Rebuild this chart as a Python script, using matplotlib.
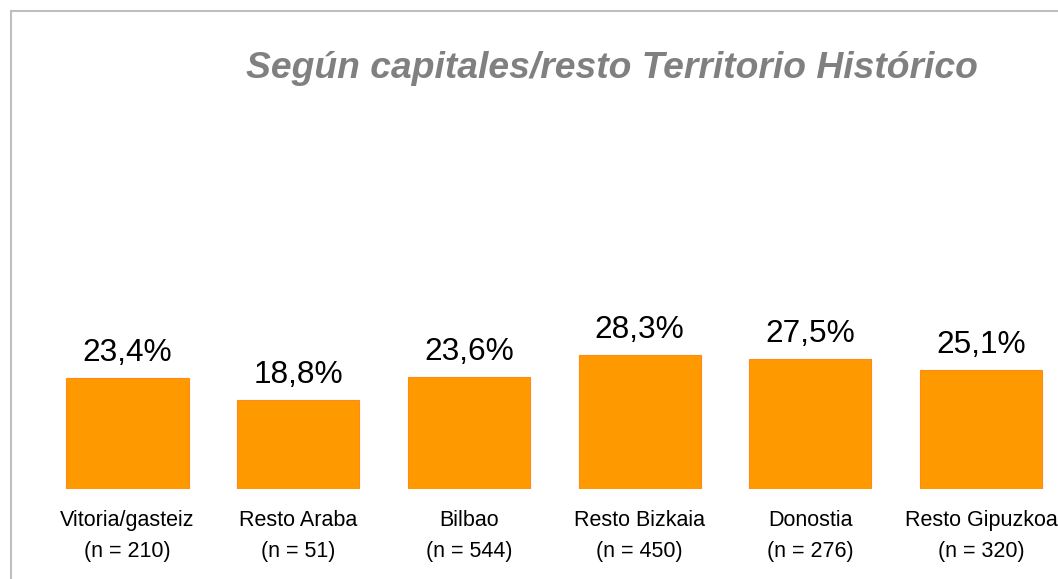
import matplotlib
matplotlib.use("Agg")
import matplotlib.pyplot as plt
from matplotlib.lines import Line2D

plt.rcParams['font.family'] = ['Liberation Sans', 'DejaVu Sans']

categories = ["Vitoria/gasteiz", "Resto Araba", "Bilbao", "Resto Bizkaia", "Donostia", "Resto Gipuzkoa"]
sample_sizes = ["(n = 210)", "(n = 51)", "(n = 544)", "(n = 450)", "(n = 276)", "(n = 320)"]
values = [23.4, 18.8, 23.6, 28.3, 27.5, 25.1]
title = "Según capitales/resto Territorio Histórico"

W, H = 1058, 579
fig = plt.figure(figsize=(W / 100, H / 100), dpi=100)

# axes: x from -0.4..5.4 mapped to px 59.2..1049.3 ; y 0 at px 489, 4.74 px per unit
left_px, right_px = 59.2, 1049.3
bottom_px = 489
ymax = 80
top_px = bottom_px - ymax * 4.74
ax = fig.add_axes([left_px / W, (H - bottom_px) / H, (right_px - left_px) / W, (bottom_px - top_px) / H])
ax.set_xlim(-0.4, 5.4)
ax.set_ylim(0, ymax)
ax.axis('off')

x = list(range(len(categories)))
ax.bar(x, values, width=0.715, color='#FF9900', edgecolor='#FF8A1A', linewidth=0.8)
for xi, v in zip(x, values):
    ax.annotate(f"{v:.1f}%".replace('.', ','), (xi, v), xytext=(0, 12.3), textcoords='offset points',
                ha='center', va='baseline', fontsize=22.8, color='black')
for xi, c, n in zip(x, categories, sample_sizes):
    ax.annotate(c, (xi, 0), xytext=(0, -26.4), textcoords='offset points', ha='center', va='baseline',
                fontsize=15.5, color='black', annotation_clip=False)
    ax.annotate(n, (xi, 0), xytext=(0, -48.7), textcoords='offset points', ha='center', va='baseline',
                fontsize=15.5, color='black', annotation_clip=False)

fig.text(612 / W, 1 - 78 / H, title, ha='center', va='baseline', fontsize=26.8,
         fontweight='bold', fontstyle='italic', color='#808080')

# frame (cropped: top and left only)
fig.add_artist(Line2D([11 / W, 1.0], [1 - 10.5 / H, 1 - 10.5 / H], color='#BFBFBF', linewidth=1.5,
                      transform=fig.transFigure))
fig.add_artist(Line2D([11 / W, 11 / W], [0, 1 - 10.5 / H], color='#BFBFBF', linewidth=1.5,
                      transform=fig.transFigure))

fig.savefig("out.png", dpi=100)
